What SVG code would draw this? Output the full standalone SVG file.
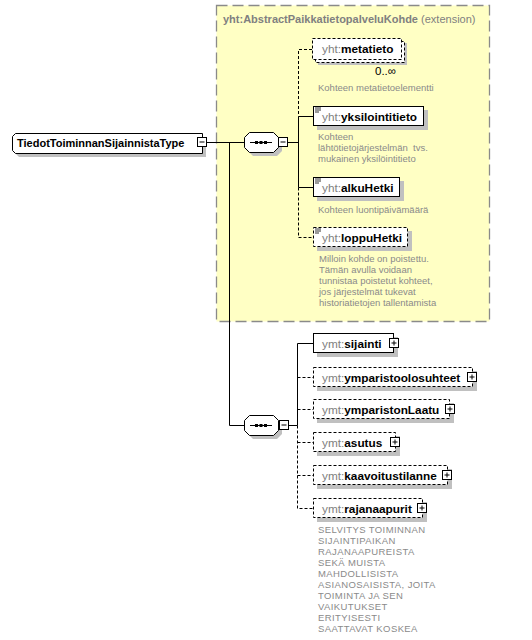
<svg xmlns="http://www.w3.org/2000/svg" width="532" height="640" viewBox="0 0 532 640">
<style>
text{font-family:"Liberation Sans",Arial,sans-serif;}
.nm{font-size:11.8px;font-weight:bold;fill:#000;}
.px{font-weight:normal;fill:#808080;}
.ds{font-size:9.5px;fill:#8a8a8a;}
.up{letter-spacing:0.4px;}
.box{fill:#fff;stroke:#000;stroke-width:1;}
.opt{stroke-dasharray:3,2;}
.sh{fill:#c0c0c0;stroke:none;}
.ln{stroke:#000;stroke-width:1;fill:none;}
.dl{stroke:#000;stroke-width:1;fill:none;stroke-dasharray:3,2;}
.ic{stroke:#000;stroke-width:1;}
.ti{stroke:#000;stroke-width:0.8;}
</style>
<rect width="532" height="640" fill="#fff"/>
<g id="extension">
<rect x="216.5" y="5.5" width="273" height="316" fill="#ffffc4" stroke="#8a8a8a" stroke-width="1.3" stroke-dasharray="11,5"/>
<text x="223" y="23" font-size="11" fill="#808080"><tspan font-weight="bold">yht:AbstractPaikkatietopalveluKohde</tspan> (extension)</text>
</g>
<g id="connectors">
<line class="ln" x1="207" y1="142.5" x2="244" y2="142.5"/>
<polyline class="ln" points="229.5,142.5 229.5,425.5 244,425.5"/>
<line class="ln" x1="288" y1="142.5" x2="298.5" y2="142.5"/>
<polyline class="dl" points="312,49.5 298.5,49.5 298.5,116.5"/>
<polyline class="ln" points="313,116.5 298.5,116.5 298.5,187.5 313,187.5"/>
<polyline class="dl" points="298.5,187.5 298.5,237.5 313,237.5"/>
<line class="ln" x1="289" y1="425.5" x2="297.5" y2="425.5"/>
<polyline class="ln" points="313,343.5 297.5,343.5 297.5,425.5"/>
<polyline class="dl" points="297.5,425.5 297.5,508.5 313,508.5"/>
<line class="dl" x1="297.5" y1="377.5" x2="313" y2="377.5"/>
<line class="dl" x1="297.5" y1="409.5" x2="313" y2="409.5"/>
<line class="dl" x1="297.5" y1="442.5" x2="313" y2="442.5"/>
<line class="dl" x1="297.5" y1="475.5" x2="313" y2="475.5"/>
</g>
<g id="TiedotToiminnanSijainnistaType">
<path class="sh" d="M19,137 H206 V157 H19 L16,154 V140 Z"/>
<path class="box" d="M15.5,133.5 H202.5 V153.5 H15.5 L12.5,150.5 V136.5 Z"/>
<text x="17" y="147" font-size="11" font-weight="bold">TiedotToiminnanSijainnistaType</text>
<rect class="box" x="197.5" y="137.5" width="9" height="9"/>
<line class="ic" x1="199.5" y1="142" x2="204.5" y2="142"/>
</g>
<g id="sequence1">
<path class="sh" d="M253,136 H277 L282,141 V151 L277,156 H253 L248,151 V141 Z"/>
<path class="box" d="M249.5,132.5 H273.5 L278.5,137.5 V147.5 L273.5,152.5 H249.5 L244.5,147.5 V137.5 Z"/>
<line class="ic" x1="250" y1="142.5" x2="272" y2="142.5"/>
<rect x="255" y="141" width="3" height="3" fill="#000"/>
<rect x="259.5" y="141" width="3" height="3" fill="#000"/>
<rect x="264" y="141" width="3" height="3" fill="#000"/>
<rect class="box" x="278.5" y="137.5" width="9" height="9"/>
<line class="ic" x1="280.5" y1="142" x2="285.5" y2="142"/>
</g>
<g id="metatieto">
<rect class="sh" x="318" y="43" width="89" height="22"/>
<rect class="box opt" x="315.5" y="41.5" width="89" height="21"/>
<rect class="box opt" x="312.5" y="38.5" width="89" height="21"/>
<text class="nm" x="322" y="53"><tspan class="px">yht:</tspan>metatieto</text>
<text x="375" y="75" font-size="11.5" fill="#000">0..∞</text>
<text class="ds" x="318" y="91">Kohteen metatietoelementti</text>
</g>
<g id="yksilointitieto">
<rect class="sh" x="317" y="110" width="111" height="20"/>
<rect class="box" x="313.5" y="106.5" width="110" height="19"/>
<line class="ti" x1="315" y1="108" x2="321" y2="108"/>
<line class="ti" x1="315" y1="110" x2="321" y2="110"/>
<line class="ti" x1="315" y1="112" x2="319" y2="112"/>
<text class="nm" x="322" y="120.5"><tspan class="px">yht:</tspan>yksilointitieto</text>
<text class="ds" x="318" y="140">Kohteen</text>
<text class="ds" x="318" y="151" xml:space="preserve">lähtötietojärjestelmän  tvs.</text>
<text class="ds" x="318" y="162">mukainen yksilöintitieto</text>
</g>
<g id="alkuHetki">
<rect class="sh" x="317" y="181" width="87" height="20"/>
<rect class="box" x="313.5" y="177.5" width="86" height="19"/>
<line class="ti" x1="315" y1="179" x2="321" y2="179"/>
<line class="ti" x1="315" y1="181" x2="321" y2="181"/>
<line class="ti" x1="315" y1="183" x2="319" y2="183"/>
<text class="nm" x="322" y="191.5"><tspan class="px">yht:</tspan>alkuHetki</text>
<text class="ds" x="318" y="212.5">Kohteen luontipäivämäärä</text>
</g>
<g id="loppuHetki">
<rect class="sh" x="317" y="231" width="95" height="20"/>
<rect class="box opt" x="313.5" y="227.5" width="94" height="19"/>
<line class="ti" x1="315" y1="229" x2="321" y2="229"/>
<line class="ti" x1="315" y1="231" x2="321" y2="231"/>
<line class="ti" x1="315" y1="233" x2="319" y2="233"/>
<text class="nm" x="322" y="241.5"><tspan class="px">yht:</tspan>loppuHetki</text>
<text class="ds" x="319" y="261.5">Milloin kohde on poistettu.</text>
<text class="ds" x="319" y="272.5">Tämän avulla voidaan</text>
<text class="ds" x="319" y="283.5">tunnistaa poistetut kohteet,</text>
<text class="ds" x="319" y="294.5">jos järjestelmät tukevat</text>
<text class="ds" x="319" y="305.5">historiatietojen tallentamista</text>
</g>
<g id="sequence2">
<path class="sh" d="M253,419 H277 L282,424 V434 L277,439 H253 L248,434 V424 Z"/>
<path class="box" d="M249.5,415.5 H273.5 L278.5,420.5 V430.5 L273.5,435.5 H249.5 L244.5,430.5 V420.5 Z"/>
<line class="ic" x1="250" y1="425.5" x2="272" y2="425.5"/>
<rect x="255" y="424" width="3" height="3" fill="#000"/>
<rect x="259.5" y="424" width="3" height="3" fill="#000"/>
<rect x="264" y="424" width="3" height="3" fill="#000"/>
<rect class="box" x="279.5" y="420.5" width="9" height="9"/>
<line class="ic" x1="281.5" y1="425" x2="286.5" y2="425"/>
</g>
<g id="sijainti">
<rect class="sh" x="317" y="337" width="81" height="20"/>
<rect class="box" x="313.5" y="333.5" width="80" height="19"/>
<text class="nm" x="322" y="347.5"><tspan class="px">ymt:</tspan>sijainti</text>
<rect class="box" x="389.5" y="338.5" width="9" height="9"/>
<path class="ic" d="M391.5,343 H396.5 M394,340.5 V345.5" fill="none"/>
</g>
<g id="ymparistoolosuhteet">
<rect class="sh" x="317" y="371" width="160" height="20"/>
<rect class="box opt" x="313.5" y="367.5" width="159" height="19"/>
<text class="nm" x="322" y="381.5"><tspan class="px">ymt:</tspan>ymparistoolosuhteet</text>
<rect class="box" x="467.5" y="372.5" width="9" height="9"/>
<path class="ic" d="M469.5,377 H474.5 M472,374.5 V379.5" fill="none"/>
</g>
<g id="ymparistonLaatu">
<rect class="sh" x="317" y="403" width="137" height="20"/>
<rect class="box opt" x="313.5" y="399.5" width="136" height="19"/>
<text class="nm" x="322" y="413.5"><tspan class="px">ymt:</tspan>ymparistonLaatu</text>
<rect class="box" x="445.5" y="404.5" width="9" height="9"/>
<path class="ic" d="M447.5,409 H452.5 M450,406.5 V411.5" fill="none"/>
</g>
<g id="asutus">
<rect class="sh" x="317" y="436" width="83" height="20"/>
<rect class="box opt" x="313.5" y="432.5" width="82" height="19"/>
<text class="nm" x="322" y="446.5"><tspan class="px">ymt:</tspan>asutus</text>
<rect class="box" x="390.5" y="437.5" width="9" height="9"/>
<path class="ic" d="M392.5,442 H397.5 M395,439.5 V444.5" fill="none"/>
</g>
<g id="kaavoitustilanne">
<rect class="sh" x="317" y="469" width="135" height="20"/>
<rect class="box opt" x="313.5" y="465.5" width="134" height="19"/>
<text class="nm" x="322" y="479.5"><tspan class="px">ymt:</tspan>kaavoitustilanne</text>
<rect class="box" x="442.5" y="470.5" width="9" height="9"/>
<path class="ic" d="M444.5,475 H449.5 M447,472.5 V477.5" fill="none"/>
</g>
<g id="rajanaapurit">
<rect class="sh" x="317" y="502" width="110" height="20"/>
<rect class="box opt" x="313.5" y="498.5" width="109" height="19"/>
<text class="nm" x="322" y="512.5"><tspan class="px">ymt:</tspan>rajanaapurit</text>
<rect class="box" x="417.5" y="503.5" width="9" height="9"/>
<path class="ic" d="M419.5,508 H424.5 M422,505.5 V510.5" fill="none"/>
<text class="ds up" x="318" y="533">SELVITYS TOIMINNAN</text>
<text class="ds up" x="318" y="544">SIJAINTIPAIKAN</text>
<text class="ds up" x="318" y="555">RAJANAAPUREISTA</text>
<text class="ds up" x="318" y="566">SEKÄ MUISTA</text>
<text class="ds up" x="318" y="577">MAHDOLLISISTA</text>
<text class="ds up" x="318" y="588">ASIANOSAISISTA, JOITA</text>
<text class="ds up" x="318" y="599">TOIMINTA JA SEN</text>
<text class="ds up" x="318" y="610">VAIKUTUKSET</text>
<text class="ds up" x="318" y="621">ERITYISESTI</text>
<text class="ds up" x="318" y="632">SAATTAVAT KOSKEA</text>
</g>
</svg>
